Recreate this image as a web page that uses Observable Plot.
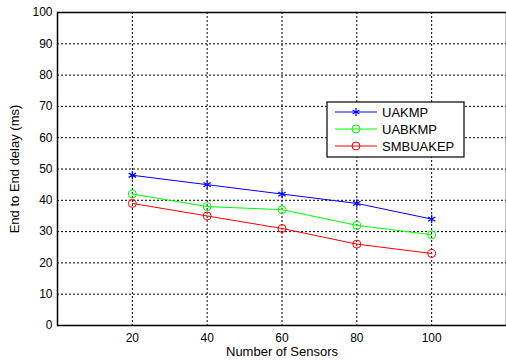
<!DOCTYPE html>
<html>
<head>
<meta charset="utf-8">
<script src="https://cdn.jsdelivr.net/npm/d3@7"></script>
<script src="https://cdn.jsdelivr.net/npm/@observablehq/plot@0.6"></script>
<style>
  html, body { margin: 0; padding: 0; background: #fff; }
  #chart { position: relative; width: 506px; height: 362px; }
</style>
</head>
<body>
<div id="chart"></div>
<script>
const sensors = [20, 40, 60, 80, 100];
const uakmp = [48, 45, 42, 39, 34];
const uabkmp = [42, 38, 37, 32, 29];
const smbuakep = [39, 35, 31, 26, 23];
const seriesNames = ["UAKMP", "UABKMP", "SMBUAKEP"];
const seriesColors = ["#0000ff", "#00ff00", "#ff0000"];
const seriesSymbols = ["asterisk", "circle", "circle"];
const xTicks = [20, 40, 60, 80, 100];
const yTicks = [0, 10, 20, 30, 40, 50, 60, 70, 80, 90, 100];

const seriesValues = [uakmp, uabkmp, smbuakep];
const data = seriesNames.flatMap((name, i) =>
  sensors.map((x, j) => ({series: name, x, y: seriesValues[i][j]})));

const font = "Liberation Sans, Arial, sans-serif";

const plot = Plot.plot({
  width: 506,
  height: 362,
  marginLeft: 57,
  marginRight: 0,
  marginTop: 12,
  marginBottom: 37,
  style: {fontFamily: font, fontSize: "12px", background: "white", color: "black"},
  x: {domain: [0, 120]},
  y: {domain: [0, 100]},
  color: {domain: seriesNames, range: seriesColors},
  marks: [
    Plot.gridX(xTicks, {stroke: "black", strokeOpacity: 1, strokeDasharray: "2,2", strokeWidth: 1}),
    Plot.gridY(yTicks.slice(1, -1), {stroke: "black", strokeOpacity: 1, strokeDasharray: "2,2", strokeWidth: 1}),
    Plot.frame({stroke: "black", strokeWidth: 1.5}),
    Plot.axisX(xTicks, {tickSize: 0, tickPadding: 8, fontSize: 12, label: "Number of Sensors", labelAnchor: "center", labelOffset: 30, labelArrow: "none"}),
    Plot.axisY(yTicks, {tickSize: 0, tickPadding: 5, fontSize: 12, label: "End to End delay (ms)", labelAnchor: "center", labelOffset: 48, labelArrow: "none"}),
    Plot.line(data, {x: "x", y: "y", z: "series", stroke: "series", strokeWidth: 1}),
    Plot.dot(data.filter(d => d.series !== "UAKMP"), {x: "x", y: "y", stroke: "series", fill: "none", r: 4, strokeWidth: 1}),
    Plot.dot(data.filter(d => d.series === "UAKMP"), {x: "x", y: "y", stroke: "series", symbol: "asterisk", r: 4, strokeWidth: 1.2})
  ]
});

document.getElementById("chart").appendChild(plot);

const svg = d3.select(plot);
svg.selectAll("g[aria-label='x-axis label'] text, g[aria-label='y-axis label'] text")
  .attr("font-size", 13)
  .each(function() { this.textContent = this.textContent.replace(/\s*[→←↑↓]\s*/g, ""); });

// Legend box drawn inside the plot area
const lg = svg.append("g").attr("transform", "translate(327,102)").attr("text-anchor", "start");
lg.append("rect").attr("width", 137).attr("height", 55).attr("fill", "white").attr("stroke", "black").attr("stroke-width", 1.2);
seriesNames.forEach((name, i) => {
  const yy = 10 + i * 17;
  const row = lg.append("g").attr("transform", `translate(0,${yy})`);
  row.append("line").attr("x1", 8).attr("x2", 50).attr("y1", 0).attr("y2", 0).attr("stroke", seriesColors[i]).attr("stroke-width", 1);
  if (seriesSymbols[i] === "circle") {
    row.append("circle").attr("cx", 29).attr("cy", 0).attr("r", 4).attr("fill", "none").attr("stroke", seriesColors[i]);
  } else {
    const s = 4;
    for (let a = 0; a < 3; a++) {
      const ang = a * Math.PI / 3 + Math.PI / 2;
      row.append("line").attr("x1", 29 - s * Math.cos(ang)).attr("x2", 29 + s * Math.cos(ang))
        .attr("y1", -s * Math.sin(ang)).attr("y2", s * Math.sin(ang)).attr("stroke", seriesColors[i]).attr("stroke-width", 1.2);
    }
  }
  row.append("text").attr("x", 55).attr("y", 0).attr("dy", "0.35em").attr("text-anchor", "start")
    .attr("font-family", font).attr("font-size", 13).attr("fill", "black").text(name);
});
</script>
</body>
</html>
